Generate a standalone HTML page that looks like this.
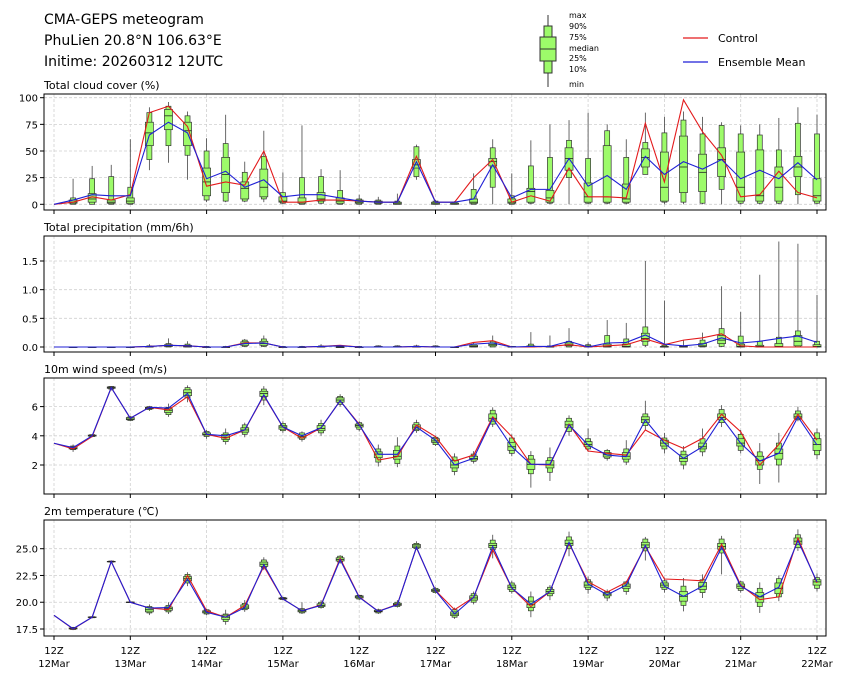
<!DOCTYPE html>
<html><head><meta charset="utf-8"><style>
body{margin:0;background:#fff;font-family:"Liberation Sans",sans-serif}
svg text{font-family:"DejaVu Sans","Liberation Sans",sans-serif}
</style></head><body>
<svg id="c" width="845" height="680" xmlns="http://www.w3.org/2000/svg">
<text x="44" y="24" font-size="14">CMA-GEPS meteogram</text>
<text x="44" y="45" font-size="14">PhuLien 20.8°N 106.63°E</text>
<text x="44" y="66" font-size="14">Initime: 20260312 12UTC</text>
<g font-size="8">
<line x1="548" y1="15" x2="548" y2="87" stroke="#333"/>
<rect x="544" y="26" width="8" height="47" fill="#9dfb6a" stroke="#333"/>
<rect x="540" y="37" width="16" height="24" fill="#9dfb6a" stroke="#333"/>
<line x1="540" y1="49" x2="556" y2="49" stroke="#333"/>
<text x="569" y="18">max</text><text x="569" y="29">90%</text><text x="569" y="40">75%</text><text x="569" y="51">median</text><text x="569" y="61">25%</text><text x="569" y="72">10%</text><text x="569" y="87">min</text>
</g>
<g font-size="11">
<line x1="683" y1="38" x2="708" y2="38" stroke="#e31a1c" stroke-width="1.2"/>
<text x="718" y="42">Control</text>
<line x1="683" y1="62" x2="708" y2="62" stroke="#1f1fd6" stroke-width="1.2"/>
<text x="718" y="66">Ensemble Mean</text>
</g>
</svg>
<script>
const days=['12Mar','13Mar','14Mar','15Mar','16Mar','17Mar','18Mar','19Mar','20Mar','21Mar','22Mar'];
const cloudCtrl=[0,2,7,4,9,86,92,73,17,21,18,50,2,2,4,4,3,2,2,45,2,2,25,42,2,8,3,34,7,7,6,76,21,98,68,46,7,9,31,11,6];
const cloudMean=[0,4,9,8,8,65,77,67,24,31,16,23,7,9,9,6,3,2,2,40,2,2,5,37,6,14,14,43,17,27,14,45,28,40,33,42,24,32,24,39,23];
const cloudBox=[null,[0,0,1,2,4,6,24],[0,0,2,5,10,24,36],[0,0,1,2,4,26,37],[0,0,1,3,6,16,61],[32,42,55,67,77,86,91],[39,55,70,83,89,92,96],[23,46,55,69,77,83,87],[2,4,8,21,34,50,62],[2,3,11,28,44,57,84],[2,3,5,15,21,30,40],[2,5,7,16,33,45,69],[0,1,2,3,7,11,30],[0,0,1,2,6,25,74],[0,1,3,5,11,26,33],[0,0,1,3,6,13,32],[0,0,1,2,4,5,9],[0,0,1,1,3,4,7],[0,0,0,1,2,3,10],[23,26,34,37,42,54,56],[0,0,0,1,2,3,4],[0,0,0,1,1,2,3],[0,0,1,2,5,14,29],[0,16,36,40,43,53,61],[0,0,1,2,5,8,29],[0,1,2,12,15,36,60],[0,1,2,6,13,44,75],[0,25,32,43,53,60,79],[0,1,2,7,20,43,86],[0,1,2,7,55,69,75],[0,1,2,5,19,44,61],[28,28,35,44,52,58,86],[0,2,3,16,49,67,82],[0,2,11,35,64,79,87],[0,1,12,30,47,66,82],[0,14,26,42,53,74,77],[0,1,3,16,49,66,74],[0,1,3,8,51,65,75],[0,1,3,16,35,51,81],[0,9,26,35,45,76,91],[0,1,3,8,24,66,84]];
const precCtrl=[0,0,0,0,0,0.01,0.03,0.02,0,0,0.07,0.07,0,0,0.01,0.03,0,0,0,0.01,0,0,0.08,0.11,0,0,0.01,0.04,0,0.02,0.04,0.14,0.04,0.12,0.16,0.23,0.02,0,0,0,0];
const precMean=[0,0,0,0,0,0.01,0.03,0.02,0,0,0.06,0.07,0,0,0.01,0.02,0,0,0,0.01,0,0,0.05,0.07,0,0.01,0.01,0.1,0,0.07,0.08,0.21,0.05,0.02,0.05,0.16,0.07,0.1,0.15,0.19,0.08];
const precBox=[null,[0,0,0,0,0,0,0],[0,0,0,0,0,0,0],[0,0,0,0,0,0,0],[0,0,0,0,0,0,0],[0,0,0,0,0.01,0.02,0.05],[0,0,0.01,0.02,0.04,0.06,0.15],[0,0,0,0.01,0.03,0.05,0.1],[0,0,0,0,0,0.01,0.02],[0,0,0,0,0,0.01,0.02],[0,0.01,0.03,0.06,0.09,0.12,0.14],[0,0.01,0.03,0.06,0.1,0.14,0.2],[0,0,0,0,0,0.01,0.02],[0,0,0,0,0,0.01,0.02],[0,0,0,0,0.01,0.02,0.05],[0,0,0,0,0,0.01,0.02],[0,0,0,0,0,0.01,0.02],[0,0,0,0,0.01,0.02,0.03],[0,0,0,0,0.01,0.02,0.03],[0,0,0,0,0.01,0.02,0.04],[0,0,0,0,0.01,0.02,0.03],[0,0,0,0,0,0,0.01],[0,0,0,0.01,0.03,0.05,0.08],[0,0,0.02,0.04,0.07,0.1,0.2],[0,0,0,0,0.01,0.01,0.02],[0,0,0,0.01,0.02,0.05,0.26],[0,0,0,0,0.01,0.02,0.2],[0,0,0.02,0.04,0.07,0.1,0.33],[0,0,0,0.01,0.02,0.04,0.08],[0,0,0,0.01,0.05,0.2,0.47],[0,0,0,0.01,0.05,0.14,0.42],[0,0.03,0.1,0.15,0.24,0.35,1.5],[0,0,0,0,0.01,0.03,0.81],[0,0,0,0,0.01,0.02,0.12],[0,0,0.01,0.02,0.06,0.12,0.25],[0,0.01,0.06,0.12,0.2,0.32,1.06],[0,0,0,0.01,0.05,0.19,0.61],[0,0,0,0.01,0.03,0.1,1.26],[0,0,0,0.01,0.06,0.17,1.84],[0,0,0.02,0.1,0.2,0.28,1.8],[0,0,0,0.01,0.04,0.1,0.91]];
const windCtrl=[3.49,3.1,3.95,7.3,5.2,5.95,5.77,6.68,4.1,3.83,4.4,6.75,4.6,3.83,4.55,6.4,4.8,2.34,2.57,4.74,3.94,2.27,2.68,5.3,3.94,2.05,2.0,4.8,2.96,2.8,2.68,4.4,3.7,3.14,3.83,5.47,4.28,2.0,3.4,5.47,3.7];
const windMean=[3.49,3.19,4.0,7.3,5.2,5.95,5.9,6.9,4.1,4.0,4.4,6.8,4.6,4.0,4.55,6.4,4.74,2.73,2.73,4.6,3.7,2.0,2.46,5.2,3.25,2.05,2.05,4.74,3.37,2.68,2.57,5.08,3.49,2.46,3.25,5.24,3.49,2.27,2.8,5.3,3.37];
const windBox=[null,[2.9,3.05,3.1,3.15,3.25,3.3,3.4],[3.9,3.95,3.98,4.0,4.05,4.08,4.1],[7.1,7.2,7.25,7.3,7.35,7.38,7.4],[5.0,5.05,5.1,5.15,5.25,5.3,5.35],[5.7,5.8,5.85,5.9,5.95,6.0,6.05],[5.3,5.45,5.6,5.75,5.85,5.95,6.2],[6.3,6.6,6.75,6.95,7.15,7.3,7.45],[3.8,3.95,4.05,4.1,4.2,4.3,4.4],[3.4,3.6,3.75,3.9,4.1,4.2,4.5],[3.9,4.1,4.25,4.4,4.55,4.75,4.9],[6.1,6.45,6.7,6.9,7.05,7.2,7.4],[4.2,4.35,4.45,4.6,4.7,4.85,5.0],[3.6,3.75,3.85,3.95,4.05,4.2,4.3],[4.0,4.2,4.35,4.5,4.7,4.85,5.1],[6.0,6.15,6.3,6.45,6.6,6.7,6.85],[4.3,4.45,4.6,4.7,4.8,4.9,5.0],[1.9,2.2,2.5,2.75,2.9,3.1,3.4],[1.85,2.1,2.4,2.6,3.0,3.3,3.9],[4.2,4.35,4.45,4.6,4.75,4.9,5.1],[3.3,3.4,3.55,3.65,3.8,3.9,4.0],[1.3,1.55,1.8,2.0,2.3,2.55,2.8],[2.1,2.25,2.35,2.45,2.6,2.75,2.95],[4.6,4.8,5.0,5.2,5.5,5.75,5.95],[2.6,2.8,3.0,3.25,3.55,3.85,4.1],[0.45,1.4,1.7,2.05,2.4,2.65,2.95],[0.9,1.5,1.8,2.0,2.3,2.5,3.2],[4.0,4.3,4.55,4.75,5.0,5.2,5.4],[2.9,3.1,3.25,3.4,3.6,3.8,4.5],[2.3,2.45,2.55,2.7,2.85,3.0,3.1],[2.0,2.2,2.4,2.6,2.85,3.1,3.7],[4.4,4.7,4.9,5.1,5.3,5.5,6.4],[2.8,3.1,3.3,3.5,3.7,3.85,4.2],[1.7,2.0,2.25,2.45,2.7,2.95,3.3],[2.6,2.9,3.1,3.25,3.5,3.8,4.5],[4.6,4.9,5.1,5.25,5.5,5.8,6.1],[2.8,3.0,3.3,3.5,3.8,4.1,4.4],[0.7,1.7,2.0,2.3,2.6,2.9,3.5],[0.8,2.0,2.4,2.8,3.1,3.5,4.2],[5.0,5.1,5.2,5.3,5.5,5.7,6.0],[2.4,2.7,3.0,3.4,3.8,4.2,4.5]];
const tempCtrl=[18.78,17.5,18.6,23.8,20.0,19.46,19.3,22.5,19.2,18.6,19.7,23.35,20.3,19.2,19.75,24.1,20.5,19.15,19.8,25.1,21.1,19.3,20.46,24.9,21.33,19.6,21.0,25.5,21.9,20.95,21.85,25.2,22.17,22.1,22.0,25.4,21.6,20.24,20.5,25.98,21.8];
const tempMean=[18.78,17.53,18.6,23.8,20.0,19.46,19.5,22.17,19.06,18.6,19.5,23.5,20.3,19.2,19.7,23.97,20.46,19.15,19.76,25.13,21.08,18.9,20.46,25.2,21.33,19.83,21.0,25.6,21.7,20.7,21.6,25.3,21.5,20.55,21.5,25.13,21.5,20.5,21.4,25.75,21.9];
const tempBox=[null,[17.4,17.45,17.5,17.55,17.6,17.65,17.7],[18.5,18.55,18.57,18.6,18.63,18.65,18.7],[23.7,23.75,23.78,23.8,23.82,23.85,23.9],[19.95,19.97,19.98,20.0,20.02,20.03,20.05],[18.8,19.0,19.1,19.3,19.5,19.6,19.8],[18.9,19.1,19.25,19.4,19.55,19.7,20.0],[21.5,21.8,22.0,22.2,22.4,22.6,22.8],[18.8,18.9,19.0,19.1,19.2,19.3,19.4],[17.9,18.2,18.4,18.6,18.8,18.9,19.3],[19.1,19.3,19.4,19.55,19.75,19.9,20.2],[23.0,23.2,23.35,23.55,23.75,23.95,24.2],[20.2,20.25,20.3,20.35,20.4,20.45,20.5],[18.9,19.0,19.1,19.2,19.3,19.4,20.0],[19.4,19.5,19.6,19.7,19.85,20.0,20.2],[23.6,23.75,23.85,24.0,24.15,24.3,24.4],[20.2,20.3,20.4,20.5,20.6,20.65,20.7],[18.9,19.0,19.1,19.15,19.25,19.3,19.4],[19.5,19.6,19.7,19.8,19.9,20.0,20.2],[24.9,25.0,25.1,25.25,25.4,25.5,25.7],[20.8,20.9,21.0,21.1,21.2,21.3,21.4],[18.45,18.6,18.75,18.9,19.1,19.3,19.5],[19.8,20.0,20.2,20.4,20.6,20.8,21.0],[24.1,24.9,25.1,25.3,25.5,25.8,26.3],[20.8,21.0,21.2,21.4,21.6,21.8,22.0],[18.6,19.2,19.5,19.8,20.1,20.5,21.0],[20.2,20.6,20.8,21.0,21.2,21.4,21.6],[24.3,25.0,25.3,25.5,25.8,26.1,26.6],[20.8,21.2,21.4,21.6,21.9,22.1,22.4],[20.1,20.4,20.6,20.75,20.9,21.0,21.2],[20.7,21.0,21.3,21.5,21.7,21.9,22.0],[23.9,24.8,25.1,25.35,25.6,25.9,26.1],[20.9,21.2,21.4,21.6,21.8,22.0,22.3],[19.15,19.7,20.1,20.55,21.0,21.5,22.26],[20.4,20.9,21.2,21.5,21.85,22.1,22.6],[22.6,24.6,24.95,25.2,25.5,25.9,26.2],[20.9,21.1,21.3,21.5,21.7,21.9,22.0],[19.0,19.6,20.0,20.5,20.9,21.3,21.85],[20.1,20.5,20.8,21.3,21.8,22.2,22.5],[24.8,25.1,25.4,25.7,26.0,26.3,26.8],[21.0,21.3,21.6,21.9,22.1,22.3,22.7]];
const cloudTicks=[0,25,50,75,100];
const precTicks=[0,0.5,1.0,1.5];
const windTicks=[2,4,6];
const tempTicks=[17.5,20.0,22.5,25.0];

const NS='http://www.w3.org/2000/svg';
const svg=document.getElementById('c');
const X0=44,X1=826;
function xs(i){return 54+i*(817-54)/40;}
function mk(tag,attrs,parent){const e=document.createElementNS(NS,tag);for(const k in attrs)e.setAttribute(k,attrs[k]);(parent||svg).appendChild(e);return e;}
function panel(o){
  const g=mk('g',{});
  
  
  const ys=v=>o.y0px+(v-o.v0)*(o.y1px-o.y0px)/(o.v1-o.v0);
  // grid
  for(let d=0;d<days.length;d++){const x=xs(d*4);const l=mk('line',{x1:x,x2:x,y1:o.top,y2:o.bot,stroke:'#d0d0d0','stroke-dasharray':'3,2','stroke-width':0.8},g);
    }
  o.ticks.forEach(t=>{const y=ys(t);const l=mk('line',{x1:X0,x2:X1,y1:y,y2:y,stroke:'#d0d0d0','stroke-dasharray':'3,2','stroke-width':0.8},g);
    
    mk('line',{x1:X0-4,x2:X0,y1:y,y2:y,stroke:'#000'},g);
    const tx=mk('text',{x:X0-6,y:y+4,'font-size':10,'text-anchor':'end'},g);tx.textContent=o.fmt(t);
    });
  // boxes
  for(let i=1;i<=40;i++){const b=o.box[i];if(!b)continue;const x=xs(i);
    const bg=mk('g',{},g);
    
    
    mk('line',{x1:x,x2:x,y1:ys(b[0]),y2:ys(b[6]),stroke:'#444','stroke-width':0.8},bg);
    const y90=ys(b[5]),y10=ys(b[1]);mk('rect',{x:x-2.5,y:Math.min(y90,y10),width:5,height:Math.max(0.6,Math.abs(y10-y90)),fill:'#9dfb6a',stroke:'#333','stroke-width':0.7},bg);
    const y75=ys(b[4]),y25=ys(b[2]);mk('rect',{x:x-4,y:Math.min(y75,y25),width:8,height:Math.max(0.6,Math.abs(y25-y75)),fill:'#9dfb6a',stroke:'#333','stroke-width':0.7},bg);
    mk('line',{x1:x-4,x2:x+4,y1:ys(b[3]),y2:ys(b[3]),stroke:'#222','stroke-width':0.8},bg);}
  const pl=(arr,col,nm)=>{const p=mk('polyline',{points:arr.map((v,i)=>xs(i)+','+ys(v)).join(' '),fill:'none',stroke:col,'stroke-width':1.1},g);
    };
  pl(o.ctrl,'#e31a1c',o.name+'-control-line');
  pl(o.mean,'#1f1fd6',o.name+'-mean-line');
  // frame
  const fr=mk('rect',{x:X0,y:o.top,width:X1-X0,height:o.bot-o.top,fill:'none',stroke:'#000','stroke-width':1},g);
  
  for(let d=0;d<days.length;d++){const x=xs(d*4);mk('line',{x1:x,x2:x,y1:o.bot,y2:o.bot+4,stroke:'#000'},g);}
  const t=mk('text',{x:44,y:o.top-5,'font-size':11},g);t.textContent=o.title;
  
}
panel({name:'cloud-panel',title:'Total cloud cover (%)',top:94,bot:210,v0:0,y0px:204.3,v1:100,y1px:97.7,ticks:cloudTicks,fmt:t=>String(t),box:cloudBox,ctrl:cloudCtrl,mean:cloudMean});
panel({name:'precip-panel',title:'Total precipitation (mm/6h)',top:236,bot:352,v0:0,y0px:347,v1:1.5,y1px:261,ticks:precTicks,fmt:t=>t.toFixed(1),box:precBox,ctrl:precCtrl,mean:precMean});
panel({name:'wind-panel',title:'10m wind speed (m/s)',top:378,bot:494,v0:2,y0px:465,v1:6,y1px:406.6,ticks:windTicks,fmt:t=>String(t),box:windBox,ctrl:windCtrl,mean:windMean});
panel({name:'temp-panel',title:'2m temperature (℃)',top:520,bot:636,v0:17.5,y0px:629,v1:25,y1px:548.7,ticks:tempTicks,fmt:t=>t.toFixed(1),box:tempBox,ctrl:tempCtrl,mean:tempMean});
days.forEach((d,k)=>{const x=xs(k*4);
  const t1=mk('text',{x:x,y:654,'font-size':10,'text-anchor':'middle'});t1.textContent='12Z';
  
  const t2=mk('text',{x:x,y:667,'font-size':10,'text-anchor':'middle'});t2.textContent=d;
  });
</script>
</body></html>
